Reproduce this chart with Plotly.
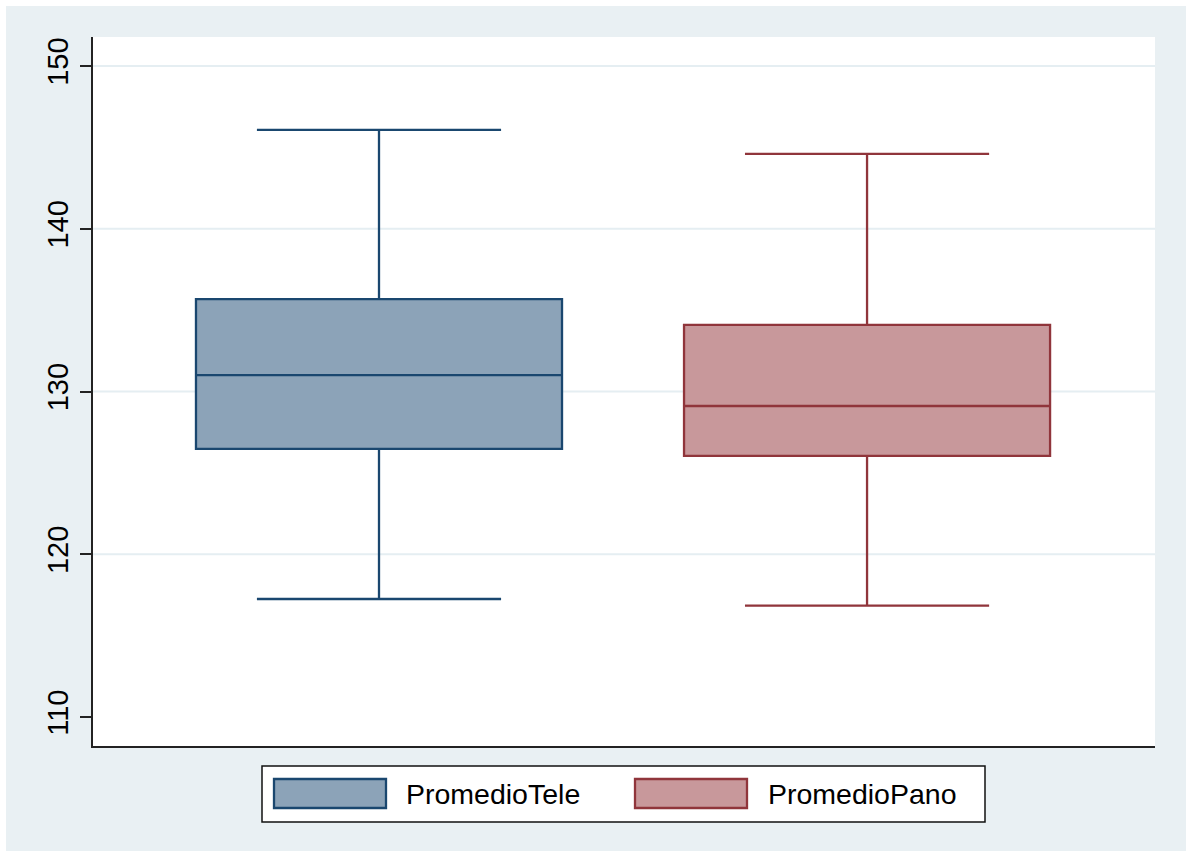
import plotly.graph_objects as go

# Summary statistics for each series (box plot components)
series_names = ["PromedioTele", "PromedioPano"]
positions = [0, 1]
lower_whisker = [117.25, 116.85]
q1_values = [126.47, 126.04]
median_values = [131.01, 129.11]
q3_values = [135.68, 134.09]
upper_whisker = [146.07, 144.6]

line_colors = ["#1a476f", "#90353b"]
fill_colors = ["#8ca3b8", "#c8989b"]

y_ticks = [110, 120, 130, 140, 150]
grid_values = [120, 130, 140, 150]

W, H = 1187, 857
ML, MR, MT, MB = 93, 32, 37, 111
PW, PH = W - ML - MR, H - MT - MB

def px_x(p):
    return (p - ML) / PW

def px_y(p):
    return (H - MB - p) / PH

fig = go.Figure()
for i, name in enumerate(series_names):
    fig.add_trace(go.Box(
        name=name,
        x=[positions[i]],
        q1=[q1_values[i]],
        median=[median_values[i]],
        q3=[q3_values[i]],
        lowerfence=[lower_whisker[i]],
        upperfence=[upper_whisker[i]],
        boxpoints=False,
        width=0.75,
        whiskerwidth=0.667,
        fillcolor=fill_colors[i],
        line=dict(color=line_colors[i], width=2.3),
        showlegend=False,
        hoverinfo="skip",
    ))

shapes = []
# Outer graph region
shapes.append(dict(type="rect", xref="paper", yref="paper", layer="below",
                   x0=px_x(6), x1=px_x(1186), y0=px_y(851), y1=px_y(6),
                   fillcolor="#e9f0f3", line=dict(width=0)))
# Plot region
shapes.append(dict(type="rect", xref="paper", yref="paper", layer="below",
                   x0=0, x1=1, y0=0, y1=1,
                   fillcolor="#ffffff", line=dict(width=0)))
# Horizontal grid lines
for g in grid_values:
    shapes.append(dict(type="line", xref="paper", yref="y", layer="below",
                       x0=0, x1=1, y0=g, y1=g,
                       line=dict(color="#e5eef2", width=2)))
# Legend frame
shapes.append(dict(type="rect", xref="paper", yref="paper",
                   x0=px_x(262), x1=px_x(985), y0=px_y(822), y1=px_y(766),
                   fillcolor="#ffffff", line=dict(color="#111111", width=1.5)))

annotations = []
legend_key_x = [274, 635]
legend_text_x = [404, 766]
for i, name in enumerate(series_names):
    shapes.append(dict(type="rect", xref="paper", yref="paper",
                       x0=px_x(legend_key_x[i]), x1=px_x(legend_key_x[i] + 112),
                       y0=px_y(808), y1=px_y(779),
                       fillcolor=fill_colors[i],
                       line=dict(color=line_colors[i], width=2.3)))
    annotations.append(dict(xref="paper", yref="paper",
                            x=px_x(legend_text_x[i]), y=px_y(794),
                            xanchor="left", yanchor="middle",
                            text=name, showarrow=False,
                            font=dict(size=28.5, color="#000000")))

fig.update_layout(
    width=W, height=H,
    margin=dict(l=ML, r=MR, t=MT, b=MB, pad=0),
    paper_bgcolor="#ffffff",
    plot_bgcolor="rgba(0,0,0,0)",
    font=dict(family="Liberation Sans, Arial, sans-serif", color="#000000"),
    shapes=shapes,
    annotations=annotations,
    showlegend=False,
    xaxis=dict(range=[-0.586, 1.590], showgrid=False, zeroline=False,
               showticklabels=False, ticks="", showline=True,
               linecolor="#222222", linewidth=2),
    yaxis=dict(range=[108.22, 151.78], tickvals=y_ticks, showgrid=False,
               zeroline=False, showline=True, linecolor="#222222",
               linewidth=2, ticks="outside", ticklen=11, tickwidth=1.5,
               tickcolor="#222222", tickangle=-90,
               tickfont=dict(size=29, color="#000000")),
)

fig.write_html("out.html")
